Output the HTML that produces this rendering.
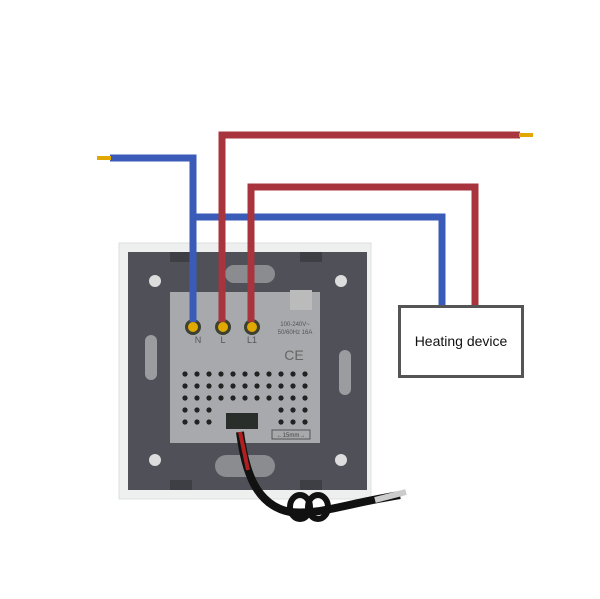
<!DOCTYPE html>
<html><head><style>
html,body{margin:0;padding:0;background:#fff;width:600px;height:599px;overflow:hidden;font-family:"Liberation Sans",sans-serif}
</style></head><body>
<svg width="600" height="599" viewBox="0 0 600 599" xmlns="http://www.w3.org/2000/svg">
<!-- frame -->
<rect x="119" y="243" width="252" height="256" fill="#eef0f0" stroke="#dde0e0"/>
<rect x="128" y="252" width="239" height="238" fill="#505158"/>
<!-- notches -->
<rect x="170" y="252" width="22" height="10" fill="#3e3f45"/>
<rect x="300" y="252" width="22" height="10" fill="#3e3f45"/>
<rect x="170" y="480" width="22" height="10" fill="#3e3f45"/>
<rect x="300" y="480" width="22" height="10" fill="#3e3f45"/>
<!-- screws -->
<circle cx="155" cy="281" r="6" fill="#ddd"/><circle cx="341" cy="281" r="6" fill="#ddd"/>
<circle cx="155" cy="460" r="6" fill="#ddd"/><circle cx="341" cy="460" r="6" fill="#ddd"/>
<!-- slots -->
<rect x="145" y="335" width="12" height="45" rx="6" fill="#9a9ca0"/>
<rect x="339" y="350" width="12" height="45" rx="6" fill="#9a9ca0"/>
<rect x="225" y="265" width="50" height="18" rx="9" fill="#8a8c90"/>
<rect x="215" y="455" width="60" height="22" rx="11" fill="#8a8c90"/>
<!-- module -->
<rect x="170" y="292" width="150" height="151" fill="#a7a9ac"/>
<rect x="290" y="290" width="22" height="20" fill="#bbb"/>
<g fill="#222">
<g id="r"><circle cx="185" cy="374" r="2.6"/><circle cx="197" cy="374" r="2.6"/><circle cx="209" cy="374" r="2.6"/><circle cx="221" cy="374" r="2.6"/><circle cx="233" cy="374" r="2.6"/><circle cx="245" cy="374" r="2.6"/><circle cx="257" cy="374" r="2.6"/><circle cx="269" cy="374" r="2.6"/><circle cx="281" cy="374" r="2.6"/><circle cx="293" cy="374" r="2.6"/><circle cx="305" cy="374" r="2.6"/></g>
<use href="#r" y="12"/><use href="#r" y="24"/>
<circle cx="185" cy="410" r="2.6"/><circle cx="197" cy="410" r="2.6"/><circle cx="209" cy="410" r="2.6"/>
<circle cx="185" cy="422" r="2.6"/><circle cx="197" cy="422" r="2.6"/><circle cx="209" cy="422" r="2.6"/>
<circle cx="281" cy="410" r="2.6"/><circle cx="293" cy="410" r="2.6"/><circle cx="305" cy="410" r="2.6"/>
<circle cx="281" cy="422" r="2.6"/><circle cx="293" cy="422" r="2.6"/><circle cx="305" cy="422" r="2.6"/>
</g>
<rect x="226" y="413" width="32" height="16" fill="#2a2e2a"/>
<rect x="272" y="430" width="38" height="9" fill="none" stroke="#555"/>
<text x="291" y="437" font-size="6" text-anchor="middle" fill="#444">←15mm→</text>
<text x="198" y="343" font-size="9" fill="#555" text-anchor="middle">N</text>
<text x="223" y="343" font-size="9" fill="#555" text-anchor="middle">L</text>
<text x="252" y="343" font-size="9" fill="#555" text-anchor="middle">L1</text>
<text x="294" y="360" font-size="14" fill="#666" text-anchor="middle">CE</text>
<text x="295" y="326" font-size="6" fill="#555" text-anchor="middle">100-240V~</text>
<text x="295" y="334" font-size="6" fill="#555" text-anchor="middle">50/60Hz 16A</text>
<!-- terminals -->
<circle cx="193" cy="327" r="8" fill="#3b4030"/><circle cx="223" cy="327" r="8" fill="#3b4030"/><circle cx="252" cy="327" r="8" fill="#3b4030"/>
<circle cx="193" cy="327" r="5" fill="#e0a800"/><circle cx="223" cy="327" r="5" fill="#e0a800"/><circle cx="252" cy="327" r="5" fill="#e0a800"/>
<!-- wires -->
<g fill="none" stroke-width="7" stroke-linejoin="miter">
<polyline points="110,158 193,158 193,322" stroke="#3a5bb8"/>
<polyline points="193,217 442,217 442,305" stroke="#3a5bb8"/>
<polyline points="222,322 222,135 520,135" stroke="#a8343e"/>
<polyline points="251,322 251,187 475,187 475,305" stroke="#a8343e"/>
</g>
<line x1="97" y1="158" x2="111" y2="158" stroke="#e0a800" stroke-width="4"/>
<line x1="519" y1="135" x2="533" y2="135" stroke="#e0a800" stroke-width="4"/>
<!-- cable -->
<path d="M240 432 C 245 470, 255 505, 290 512 C 320 515, 340 505, 400 495" stroke="#111" stroke-width="8" fill="none"/>
<path d="M240 432 L248 470" stroke="#b02020" stroke-width="4"/>
<ellipse cx="300" cy="507" rx="10" ry="12" fill="none" stroke="#111" stroke-width="6"/>
<ellipse cx="318" cy="507" rx="10" ry="12" fill="none" stroke="#111" stroke-width="6"/>
<line x1="375" y1="500" x2="406" y2="492" stroke="#ccc" stroke-width="6"/>
<!-- heating box -->
<rect x="399.5" y="306.5" width="123" height="70" fill="#fff" stroke="#555" stroke-width="3"/>
<text x="461" y="346" font-size="14" text-anchor="middle" fill="#111">Heating device</text>
</svg>
</body></html>
